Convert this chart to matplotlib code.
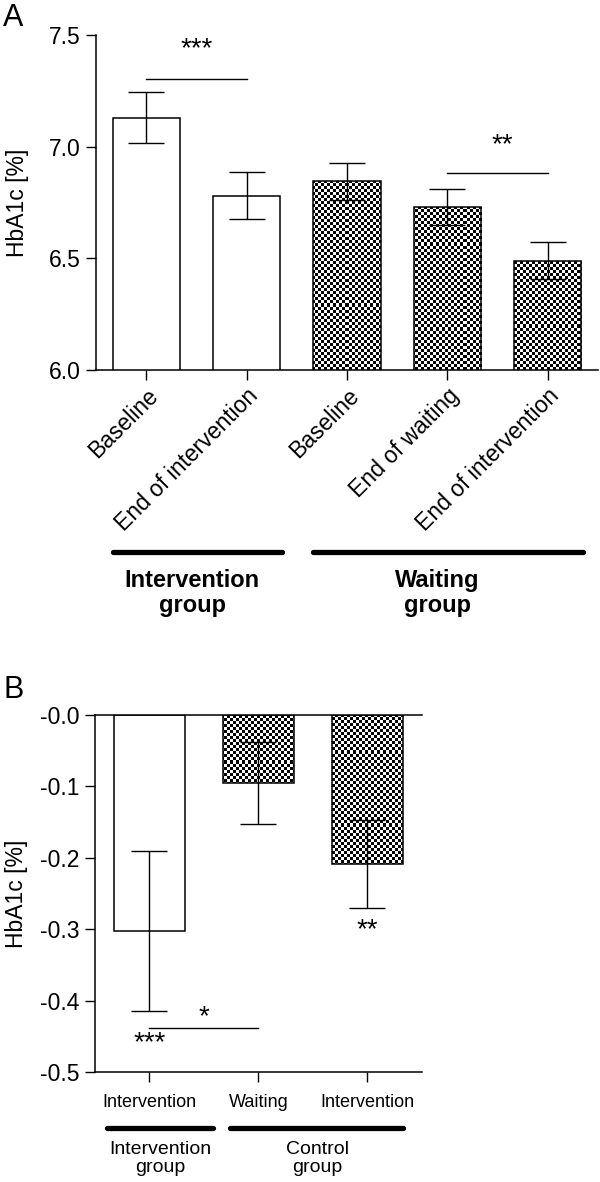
import numpy as np
import matplotlib
matplotlib.use("Agg")
import matplotlib.pyplot as plt
from matplotlib.transforms import blended_transform_factory

plt.rcParams['font.family'] = ['Liberation Sans', 'DejaVu Sans']

# panel A: HbA1c over time
a_labels = ["Baseline", "End of intervention", "Baseline", "End of waiting", "End of intervention"]
a_means = [7.13, 6.78, 6.845, 6.73, 6.49]
a_sem = [0.115, 0.105, 0.083, 0.082, 0.082]
a_checked = [False, False, True, True, True]
a_groups = ["Intervention\ngroup", "Waiting\ngroup"]
a_yticks = [6.0, 6.5, 7.0, 7.5]

# panel B: change in HbA1c
b_labels = ["Intervention", "Waiting", "Intervention"]
b_means = [-0.303, -0.095, -0.209]
b_sem = [0.112, 0.057, 0.062]
b_checked = [False, True, True]
b_groups = ["Intervention\ngroup", "Control\ngroup"]
b_yticks = [0.0, -0.1, -0.2, -0.3, -0.4, -0.5]


def checker_fill(ax, bars, cell_px=3):
    bb = ax.get_window_extent()
    nx, ny = int(bb.width / cell_px), int(bb.height / cell_px)
    tex = np.add.outer(np.arange(ny), np.arange(nx)) % 2
    x0, x1 = ax.get_xlim()
    y0, y1 = ax.get_ylim()
    for b in bars:
        im = ax.imshow(tex, cmap='gray', extent=(x0, x1, y0, y1), aspect='auto',
                       interpolation='nearest', zorder=2)
        im.set_clip_path(b)
    ax.set_xlim(x0, x1)
    ax.set_ylim(y0, y1)


def draw_bars(ax, means, sem, checked, width):
    x = np.arange(len(means))
    bars = ax.bar(x, means, width=width, color='white', edgecolor='none', zorder=1)
    checker_fill(ax, [b for b, c in zip(bars, checked) if c])
    ax.bar(x, means, width=width, color='none', edgecolor='black', linewidth=1.1, zorder=3)
    ax.errorbar(x, means, yerr=sem, fmt='none', ecolor='black', elinewidth=1.0,
                capsize=13, capthick=1.0, zorder=4)
    return x


fig = plt.figure(figsize=(6, 11.82), dpi=100)

# ---------------- panel A
ax = fig.add_axes([0.16, 0.687, 0.8367, 0.2834])
ax.set_xlim(-0.5, 4.5)
ax.set_ylim(6.0, 7.5)
x = draw_bars(ax, a_means, a_sem, a_checked, 0.67)
ax.set_yticks(a_yticks)
ax.set_yticklabels([f"{v:.1f}" for v in a_yticks])
ax.set_xticks(x)
ax.set_xticklabels(a_labels, rotation=45, ha='right', va='top', rotation_mode='anchor')
for s in ['top', 'right']:
    ax.spines[s].set_visible(False)
for s in ['left', 'bottom']:
    ax.spines[s].set_linewidth(1.1)
ax.tick_params(axis='both', direction='out', length=7, width=1.0, labelsize=16.5, pad=4)
ax.tick_params(axis='x', pad=3)
ax.set_ylabel("HbA1c [%]", fontsize=16.5, labelpad=14)

ax.plot([0, 1], [7.305, 7.305], color='black', lw=1.0)
ax.text(0.5, 7.435, "***", ha='center', va='center', fontsize=20)
ax.plot([3, 4], [6.88, 6.88], color='black', lw=1.0)
ax.text(3.55, 7.005, "**", ha='center', va='center', fontsize=20)

tr = blended_transform_factory(ax.transData, ax.transAxes)
for (x0, x1), xc, lab in zip([(-0.33, 1.35), (1.66, 4.35)], [0.46, 2.9], a_groups):
    ax.plot([x0, x1], [-0.542, -0.542], color='black', lw=3.8, solid_capstyle='round',
            transform=tr, clip_on=False)
    ax.text(xc, -0.667, lab, ha='center', va='center', fontsize=17, fontweight='bold',
            transform=tr, linespacing=1.1)

fig.text(0.005, 0.985, "A", fontsize=22, ha='left', va='center')

# ---------------- panel B
bx = fig.add_axes([0.158, 0.0931, 0.545, 0.302])
bx.set_xlim(-0.5, 2.5)
bx.set_ylim(-0.5, 0.0)
x = draw_bars(bx, b_means, b_sem, b_checked, 0.65)
bx.set_yticks(b_yticks)
bx.set_yticklabels([f"-{abs(v):.1f}" for v in b_yticks])
bx.set_xticks(x)
bx.set_xticklabels(b_labels)
bx.spines['right'].set_visible(False)
for s in ['left', 'bottom', 'top']:
    bx.spines[s].set_linewidth(1.1)
bx.tick_params(axis='y', direction='out', length=7, width=1.0, labelsize=16.5, pad=4)
bx.tick_params(axis='x', direction='out', length=7, width=1.0, labelsize=13, pad=9)
bx.set_ylabel("HbA1c [%]", fontsize=16.5, labelpad=9)

bx.plot([0, 1], [-0.438, -0.438], color='black', lw=1.0)
bx.text(0.5, -0.424, "*", ha='center', va='center', fontsize=20)
bx.text(0, -0.46, "***", ha='center', va='center', fontsize=20)
bx.text(2, -0.302, "**", ha='center', va='center', fontsize=20)

tr = blended_transform_factory(bx.transData, bx.transAxes)
for (x0, x1), xc, lab in zip([(-0.39, 0.58), (0.74, 2.33)], [0.1, 1.54], b_groups):
    bx.plot([x0, x1], [-0.157, -0.157], color='black', lw=3.8, solid_capstyle='round',
            transform=tr, clip_on=False)
    bx.text(xc, -0.243, lab, ha='center', va='center', fontsize=14, transform=tr,
            linespacing=1.1)

fig.text(0.005, 0.416, "B", fontsize=22, ha='left', va='center')

fig.savefig("out.png", dpi=100)
